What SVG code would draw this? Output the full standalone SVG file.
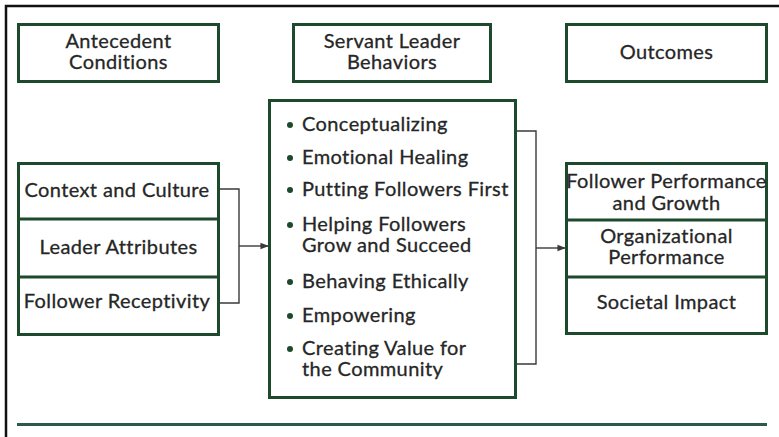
<svg xmlns="http://www.w3.org/2000/svg" width="779" height="437" viewBox="0 0 779 437">
  <style>
    .box { fill: #ffffff; stroke: #1d4a2c; stroke-width: 3; }
    .div { stroke: #1d4a2c; stroke-width: 3; }
    .lbl, .item { font-family: Lato, "Open Sans", sans-serif; font-size: 20px; letter-spacing: 0.4px; fill: #262626; stroke: #262626; stroke-width: 0.3; }
    .lbl { text-anchor: middle; }
    .dot { fill: #1d4a2c; }
    .conn { fill: none; stroke: #3a3a3a; stroke-width: 1.4; }
  </style>
  <defs>
    <marker id="arrow" viewBox="0 0 10 10" refX="9" refY="5" markerWidth="6" markerHeight="6" orient="auto">
      <path d="M0,1 L10,5 L0,9 z" fill="#3a3a3a"/>
    </marker>
  </defs>
  <rect width="779" height="437" fill="#ffffff"/>
  <!-- outer frame -->
  <path d="M6,437 V6 H779" fill="none" stroke="#111" stroke-width="2.5"/>

  <g id="antecedent-header">
    <rect class="box" x="18.5" y="24.5" width="200" height="57"/>
    <text class="lbl" x="118.5" y="48">Antecedent</text>
    <text class="lbl" x="118.5" y="69">Conditions</text>
  </g>
  <g id="behaviors-header">
    <rect class="box" x="293.5" y="24.5" width="197" height="57"/>
    <text class="lbl" x="392" y="48">Servant Leader</text>
    <text class="lbl" x="392" y="69">Behaviors</text>
  </g>
  <g id="outcomes-header">
    <rect class="box" x="566.5" y="24.5" width="200" height="57"/>
    <text class="lbl" x="666.5" y="59">Outcomes</text>
  </g>

  <g id="antecedents">
    <rect class="box" x="18.5" y="163.5" width="200" height="171"/>
    <line class="div" x1="18.5" y1="219" x2="218.5" y2="219"/>
    <line class="div" x1="18.5" y1="277" x2="218.5" y2="277"/>
    <text class="lbl" x="117" y="197">Context and Culture</text>
    <text class="lbl" x="118.5" y="254">Leader Attributes</text>
    <text class="lbl" x="117" y="308">Follower Receptivity</text>
  </g>

  <g id="behaviors">
    <rect class="box" x="269.5" y="100.5" width="246" height="297"/>
    <circle class="dot" cx="290" cy="125" r="3"/>
    <text class="item" x="302" y="131">Conceptualizing</text>
    <circle class="dot" cx="290" cy="158" r="3"/>
    <text class="item" x="302" y="164">Emotional Healing</text>
    <circle class="dot" cx="290" cy="190" r="3"/>
    <text class="item" x="302" y="196">Putting Followers First</text>
    <circle class="dot" cx="290" cy="225" r="3"/>
    <text class="item" x="302" y="231">Helping Followers</text>
    <text class="item" x="302" y="252">Grow and Succeed</text>
    <circle class="dot" cx="290" cy="282" r="3"/>
    <text class="item" x="302" y="288">Behaving Ethically</text>
    <circle class="dot" cx="290" cy="316" r="3"/>
    <text class="item" x="302" y="322">Empowering</text>
    <circle class="dot" cx="290" cy="349" r="3"/>
    <text class="item" x="302" y="355">Creating Value for</text>
    <text class="item" x="302" y="376">the Community</text>
  </g>

  <g id="outcomes">
    <rect class="box" x="566.5" y="163.5" width="200" height="170"/>
    <line class="div" x1="566.5" y1="220" x2="766.5" y2="220"/>
    <line class="div" x1="566.5" y1="277" x2="766.5" y2="277"/>
    <text class="lbl" x="666.5" y="188">Follower Performance</text>
    <text class="lbl" x="666.5" y="210">and Growth</text>
    <text class="lbl" x="666.5" y="243">Organizational</text>
    <text class="lbl" x="666.5" y="264">Performance</text>
    <text class="lbl" x="666.5" y="309">Societal Impact</text>
  </g>

  <g id="connectors">
    <path class="conn" d="M219,189 H239 V303 H219"/>
    <path class="conn" d="M239,246 H268" marker-end="url(#arrow)"/>
    <path class="conn" d="M516,131 H536 V364 H516"/>
    <path class="conn" d="M536,248 H565" marker-end="url(#arrow)"/>
  </g>

  <!-- rule along the bottom -->
  <line x1="17" y1="424.5" x2="767" y2="424.5" stroke="#2b5a48" stroke-width="3"/>
</svg>
